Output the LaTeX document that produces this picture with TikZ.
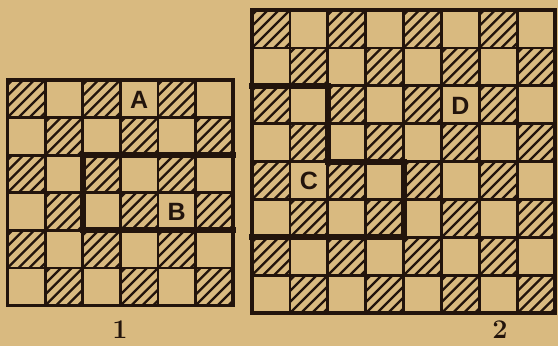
\documentclass[tikz,border=0pt]{standalone}
\usepackage{fontspec}
\newfontfamily\labfont{Liberation Sans}
\definecolor{paper}{RGB}{217,186,128}
\definecolor{ink}{RGB}{34,20,12}
\tikzset{
  grid line/.style={ink, line width=2.8pt},
  outer line/.style={ink, line width=3.5pt, line join=miter},
  hatch line/.style={ink, line width=2.3pt},
  wall line/.style={ink, line width=6pt, line join=miter, line cap=rect},
  letter/.style={ink, font=\labfont\bfseries\fontsize{25}{25}\selectfont, inner sep=0pt},
  numlabel/.style={ink, font=\bfseries\fontsize{27}{27}\selectfont, inner sep=0pt}
}
\newcommand\hatchcells[1]{%
  \foreach \r in {0,...,#1}{\foreach \c in {0,...,#1}{%
    \pgfmathtruncatemacro\myparity{mod(\r+\c,2)}%
    \ifnum\myparity=0
      \begin{scope}
        \clip (\c,\r) rectangle ++(1,1);
        \foreach \t in {-0.87,-0.58,-0.29,0,0.29,0.58,0.87}
          \draw[hatch line] (\c+\t,\r+1) -- ++(1,-1);
      \end{scope}
    \fi}}%
}
\begin{document}
\begin{tikzpicture}[x=1pt,y=-1pt]
\fill[paper] (0,0) rectangle (558,346);
\useasboundingbox (0,0) rectangle (558,346);
% board 1
\begin{scope}[shift={(7.5,80)}, scale=37.6]
  \hatchcells{5}
  \foreach \i in {1,...,5}{
    \draw[grid line] (\i,0) -- (\i,6);
    \draw[grid line] (0,\i) -- (6,\i);
  }
  \draw[outer line] (0,0) rectangle (6,6);
  \draw[wall line] (6,2) -- (2,2) -- (2,4) -- (6,4);
  \node[letter] (A) at (3.5,0.52) {A};
  \node[letter] (B) at (4.5,3.52) {B};
\end{scope}
% board 2
\begin{scope}[shift={(252,10)}, scale=37.9]
  \hatchcells{7}
  \foreach \i in {1,...,7}{
    \draw[grid line] (\i,0) -- (\i,8);
    \draw[grid line] (0,\i) -- (8,\i);
  }
  \draw[outer line] (0,0) rectangle (8,8);
  \draw[wall line] (0,2) -- (2,2) -- (2,4) -- (4,4) -- (4,6) -- (0,6);
  \node[letter] (C) at (1.5,4.52) {C};
  \node[letter] (D) at (5.5,2.52) {D};
\end{scope}
\node[numlabel] (n1) at (120,330) {1};
\node[numlabel] (n2) at (500,330) {2};
\end{tikzpicture}
\end{document}
